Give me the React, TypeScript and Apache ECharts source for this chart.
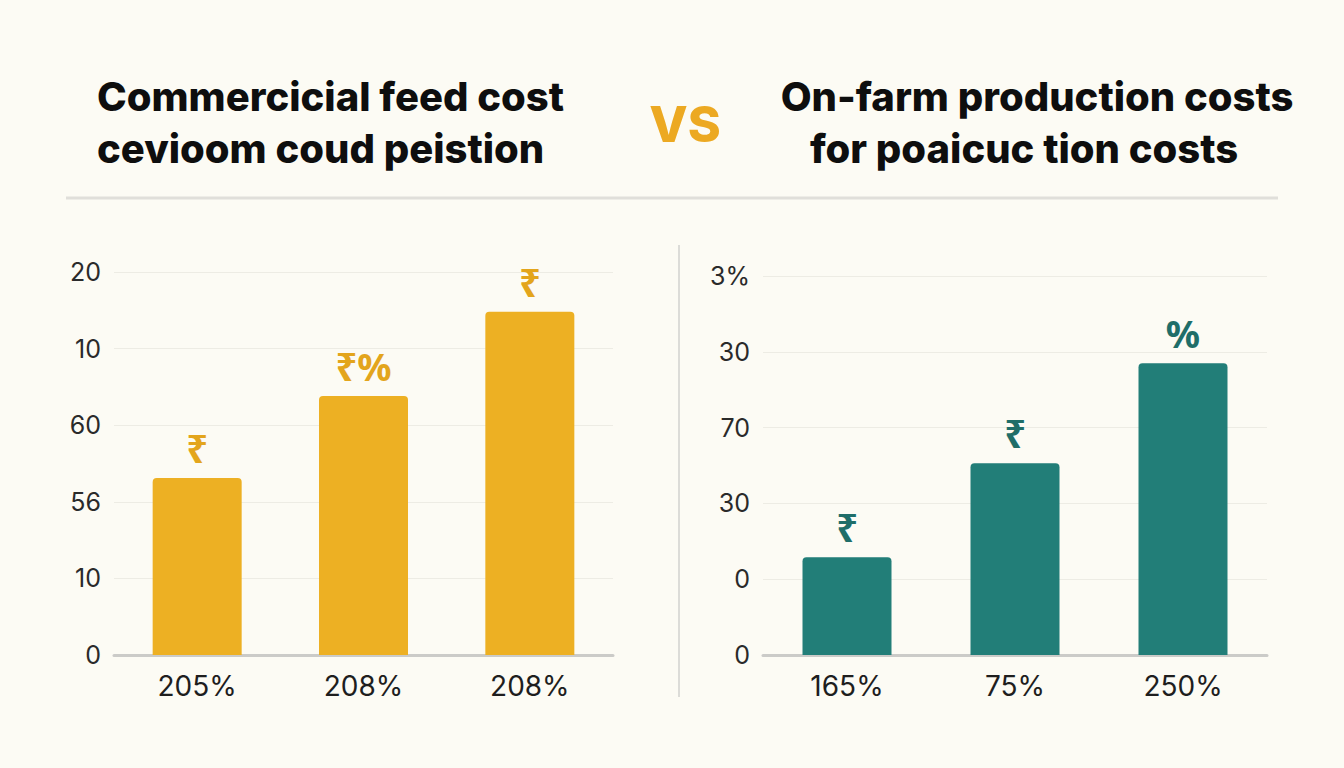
import React, { useEffect, useRef } from "react";
import * as echarts from "echarts";

const leftCategories = ["205%", "208%", "208%"];
const leftValues = [2.31, 3.38, 4.48];
const leftBarLabels = ["₹", "₹%", "₹"];
const leftTickLabels = ["0", "10", "56", "60", "10", "20"];

const rightCategories = ["165%", "75%", "250%"];
const rightValues = [1.29, 2.53, 3.85];
const rightBarLabels = ["₹", "₹", "%"];
const rightTickLabels = ["0", "0", "30", "70", "30", "3%"];

const leftTitle = ["Commercicial feed cost", "cevioom coud peistion"];
const rightTitle = ["On-farm production costs", "for poaicuc tion costs"];
const vsText = "VS";

const GOLD = "#EDB023";
const GOLD_TEXT = "#E3A51C";
const TEAL = "#227E78";
const TEAL_TEXT = "#1F6E69";
const BG = "#FCFBF4";
const FONT = "Inter, 'Noto Sans', 'DejaVu Sans', sans-serif";

export default function App() {
  const ref = useRef<HTMLDivElement>(null);
  useEffect(() => {
    if (!ref.current) return;
    const chart = echarts.init(ref.current, undefined, { renderer: "svg" });
    const yAxisCommon = (labels: string[]) => ({
      type: "value" as const,
      min: 0,
      max: 5,
      interval: 1,
      axisLine: { show: false },
      axisTick: { show: false },
      axisLabel: {
        fontSize: 25,
        color: "#2A2A2A",
        fontFamily: FONT,
        margin: 13,
        formatter: (v: number) => labels[Math.round(v)] ?? "",
      },
      splitLine: { lineStyle: { color: "#EDECE4", width: 1 } },
    });
    const xAxisCommon = (cats: string[]) => ({
      type: "category" as const,
      data: cats,
      axisLine: { lineStyle: { color: "#CBCBC8", width: 3 } },
      axisTick: { show: false },
      axisLabel: { fontSize: 28, color: "#1E1E1E", fontFamily: FONT, margin: 17 },
    });
    const barSeries = (idx: number, vals: number[], labels: string[], color: string, textColor: string) => ({
      type: "bar" as const,
      xAxisIndex: idx,
      yAxisIndex: idx,
      data: vals.map((v, i) => ({
        value: v,
        label: {
          show: true,
          position: "top" as const,
          distance: 11,
          formatter: labels[i],
          fontSize: 38,
          fontWeight: "bold" as const,
          color: textColor,
          fontFamily: "'Noto Sans', 'DejaVu Sans', sans-serif",
        },
      })),
      barWidth: 89,
      itemStyle: { color, borderRadius: [4, 4, 0, 0] },
    });
    const titleStyle = {
      fontSize: 40,
      fontWeight: 800,
      fontFamily: FONT,
      fill: "#0E0E0E",
    };
    chart.setOption({
      animation: false,
      backgroundColor: BG,
      grid: [
        { left: 114, right: 1344 - 613, top: 272, bottom: 768 - 655 },
        { left: 763, right: 1344 - 1267, top: 276, bottom: 768 - 655 },
      ],
      xAxis: [{ gridIndex: 0, ...xAxisCommon(leftCategories) }, { gridIndex: 1, ...xAxisCommon(rightCategories) }],
      yAxis: [{ gridIndex: 0, ...yAxisCommon(leftTickLabels) }, { gridIndex: 1, ...yAxisCommon(rightTickLabels) }],
      series: [
        barSeries(0, leftValues, leftBarLabels, GOLD, GOLD_TEXT),
        barSeries(1, rightValues, rightBarLabels, TEAL, TEAL_TEXT),
      ],
      graphic: [
        {
          type: "text",
          x: 97,
          y: 96,
          style: { ...titleStyle, text: leftTitle[0], align: "left", verticalAlign: "middle" },
        },
        {
          type: "text",
          x: 97,
          y: 148,
          style: { ...titleStyle, text: leftTitle[1], align: "left", verticalAlign: "middle" },
        },
        {
          type: "text",
          x: 1037,
          y: 96,
          style: { ...titleStyle, text: rightTitle[0], align: "center", verticalAlign: "middle" },
        },
        {
          type: "text",
          x: 1024,
          y: 148,
          style: { ...titleStyle, text: rightTitle[1], align: "center", verticalAlign: "middle" },
        },
        {
          type: "text",
          x: 685,
          y: 124,
          style: {
            text: vsText,
            fontSize: 50,
            fontWeight: 800,
            fontFamily: FONT,
            fill: "#ECA922",
            align: "center",
            verticalAlign: "middle",
          },
        },
        {
          type: "line",
          shape: { x1: 66, y1: 198, x2: 1278, y2: 198 },
          style: { stroke: "#E0DFDA", lineWidth: 3 },
        },
        {
          type: "line",
          shape: { x1: 679, y1: 245, x2: 679, y2: 697 },
          style: { stroke: "#DCDCD8", lineWidth: 2 },
        },
      ],
    });
    return () => chart.dispose();
  }, []);
  return <div ref={ref} style={{ position: "fixed", left: 0, top: 0, width: 1344, height: 768 }} />;
}
